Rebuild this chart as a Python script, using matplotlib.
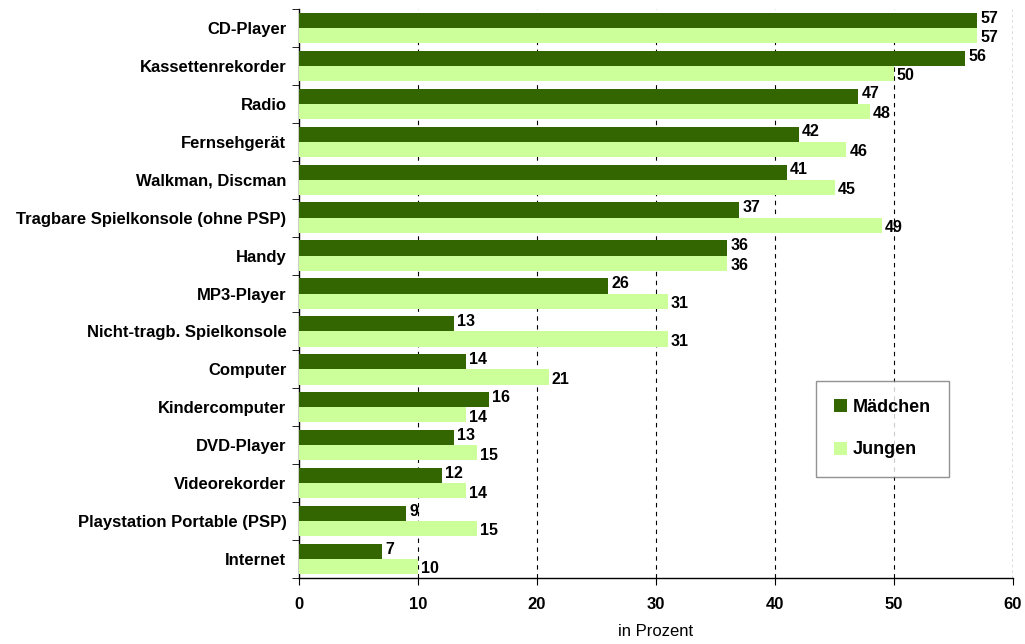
import matplotlib.pyplot as plt
from matplotlib.font_manager import fontManager
import numpy as np

categories = ['CD-Player', 'Kassettenrekorder', 'Radio', 'Fernsehgerät', 'Walkman, Discman',
              'Tragbare Spielkonsole (ohne PSP)', 'Handy', 'MP3-Player', 'Nicht-tragb. Spielkonsole',
              'Computer', 'Kindercomputer', 'DVD-Player', 'Videorekorder',
              'Playstation Portable (PSP)', 'Internet']
maedchen = [57, 56, 47, 42, 41, 37, 36, 26, 13, 14, 16, 13, 12, 9, 7]
jungen = [57, 50, 48, 46, 45, 49, 36, 31, 31, 21, 14, 15, 14, 15, 10]

names = {f.name for f in fontManager.ttflist}
narrow = 'Liberation Sans Narrow' if 'Liberation Sans Narrow' in names else 'Liberation Sans'
plt.rcParams['font.family'] = ['Liberation Sans', 'DejaVu Sans']

fig = plt.figure(figsize=(10.25, 6.44), dpi=100)
ax = fig.add_axes([0.2917, 0.1025, 0.6966, 0.8835])

n = len(categories)
y = np.arange(n)[::-1]
h = 0.4
dark = '#336600'
light = '#ccff99'

ax.barh(y + h / 2, maedchen, height=h, color=dark, label='Mädchen', zorder=3)
ax.barh(y - h / 2, jungen, height=h, color=light, label='Jungen', zorder=3)

for yy, v in zip(y, maedchen):
    ax.text(v + 0.25, yy + h / 2 + 0.06, str(v), va='center', ha='left', fontsize=11.5,
            fontweight='bold', family=narrow, zorder=4)
for yy, v in zip(y, jungen):
    ax.text(v + 0.25, yy - h / 2 - 0.06, str(v), va='center', ha='left', fontsize=11.5,
            fontweight='bold', family=narrow, zorder=4)

ax.set_xlim(0, 60)
ax.set_ylim(-0.5, n - 0.5)
ax.set_xticks(range(0, 61, 10))
ax.set_xticklabels([str(t) for t in range(0, 61, 10)], fontweight='bold', family=narrow, fontsize=12)
ax.set_yticks(y)
ax.set_yticklabels(categories, fontweight='bold', fontsize=12)
ax.tick_params(axis='y', length=0, pad=9)
ax.set_yticks(np.arange(-0.5, n, 1.0), minor=True)
ax.tick_params(axis='y', which='minor', length=5, direction='out', color='black')
ax.tick_params(axis='x', length=5, direction='out', pad=9)

for x in range(10, 60, 10):
    ax.axvline(x, color='black', linestyle=(0, (4, 4)), linewidth=0.8, zorder=1)
ax.axvline(60, color='#555555', linestyle=(0, (2, 2)), linewidth=1.0, zorder=1)

ax.spines['top'].set_visible(False)
ax.spines['right'].set_visible(False)
ax.spines['left'].set_linewidth(1.0)
ax.spines['bottom'].set_linewidth(1.0)

ax.set_xlabel('in Prozent', family=narrow, fontsize=12, labelpad=8)

leg = ax.legend(loc='upper left', bbox_to_anchor=(0.7237, 0.346), frameon=True, fancybox=False,
                prop={'weight': 'bold', 'size': 13}, handlelength=0.75, handleheight=0.75,
                handletextpad=0.3, labelspacing=1.4, borderpad=1.0, borderaxespad=0)
leg.get_frame().set_edgecolor('#777777')
leg.get_frame().set_linewidth(1.0)

fig.savefig('out.png', dpi=100)
